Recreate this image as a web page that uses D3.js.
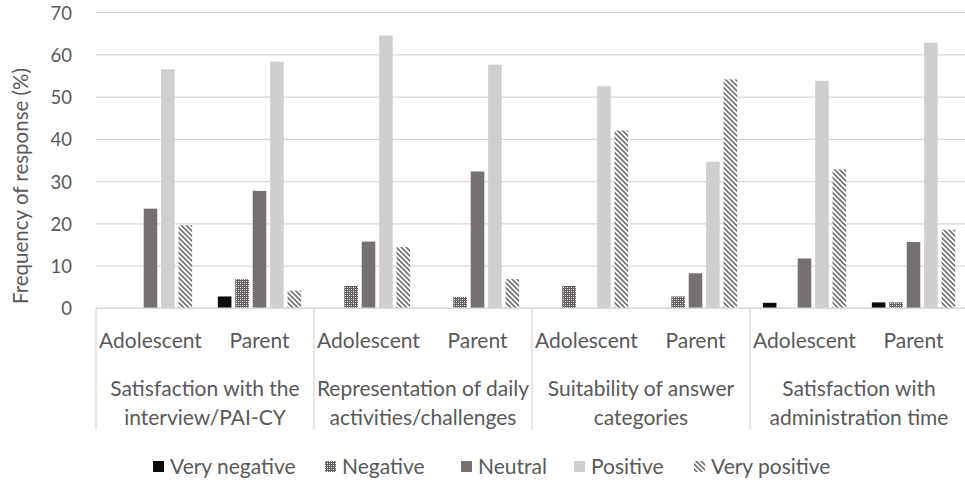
<!DOCTYPE html>
<html><head><meta charset="utf-8">
<script src="https://cdn.jsdelivr.net/npm/d3@7"></script>
<style>body{margin:0;background:#fff;} svg{display:block;font-family:Lato,sans-serif;}</style>
</head><body><svg id="c" width="965" height="483"></svg>
<script>
const groupLabels = [["Satisfaction with the","interview/PAI-CY"],["Representation of daily","activities/challenges"],["Suitability of answer","categories"],["Satisfaction with","administration time"]];
const respondents = ["Adolescent","Parent"];
const seriesNames = ["Very negative","Negative","Neutral","Positive","Very positive"];
const veryNegative = [0, 2.8, 0, 0, 0, 0, 1.3, 1.4];
const negative     = [0, 6.9, 5.3, 2.7, 5.3, 2.8, 0, 1.4];
const neutral      = [23.6, 27.8, 15.8, 32.4, 0, 8.3, 11.8, 15.7];
const positive     = [56.6, 58.4, 64.6, 57.7, 52.6, 34.7, 53.9, 62.9];
const veryPositive = [19.7, 4.2, 14.5, 6.9, 42.1, 54.2, 32.9, 18.6];
const yTicks = [0,10,20,30,40,50,60,70];
const yTitle = "Frequency of response (%)";

const seriesVals = [veryNegative, negative, neutral, positive, veryPositive];
const cats = [];
groupLabels.forEach((g,gi)=>respondents.forEach(r=>cats.push(gi+"|"+r)));

const svg = d3.select("#c");
const defs = svg.append("defs");
const pn = defs.append("pattern").attr("id","pNeg").attr("patternUnits","userSpaceOnUse").attr("width",4).attr("height",4);
pn.append("rect").attr("width",4).attr("height",4).attr("fill","#625e5e");
pn.append("path").attr("d","M1,1h1v1h-1zM3,3h1v1h-1z").attr("fill","#ffffff");
pn.append("path").attr("d","M3,1h1v1h-1zM1,3h1v1h-1z").attr("fill","#bdbaba");
const pv = defs.append("pattern").attr("id","pVP").attr("patternUnits","userSpaceOnUse").attr("width",5).attr("height",5);
pv.append("rect").attr("width",5).attr("height",5).attr("fill","#ffffff");
pv.append("path").attr("d","M-1,-1L6,6M-1,4L1,6M4,-1L6,1").attr("stroke","#7a7676").attr("stroke-width",1.8);

const fills = ["#0c0c0c","url(#pNeg)","#767171","#d0cece","url(#pVP)"];

const mLeft = 96, mRight = 968, mTop = 12.7, mBottom = 308.3;
const x0 = d3.scaleBand().domain(cats).range([mLeft,mRight]).padding(0);
const bw = x0.bandwidth();
const x1 = d3.scaleBand().domain(seriesNames).range([bw*0.118, bw*0.882]).paddingInner(0.22).paddingOuter(0);
const y = d3.scaleLinear().domain([0,70]).range([mBottom, mTop]);

svg.append("g").selectAll("line").data(yTicks).join("line")
  .attr("x1",mLeft).attr("x2",965).attr("y1",d=>y(d)).attr("y2",d=>y(d))
  .attr("stroke","#d9d9d9").attr("stroke-width",1.3);

const yAxis = svg.append("g").attr("transform",`translate(${mLeft-24},0)`)
  .call(d3.axisLeft(y).tickValues(yTicks).tickSize(0).tickPadding(0));
yAxis.select(".domain").remove();
yAxis.selectAll("text").attr("fill","#595959").style("font-size","18.5px").style("font-family","Lato,sans-serif").attr("text-anchor","end").attr("dy","0.35em");

svg.append("text").attr("transform","translate(28,186) rotate(-90)").attr("text-anchor","middle")
  .attr("fill","#595959").style("font-size","20.5px").text(yTitle);

const gBars = svg.append("g");
cats.forEach((c,ci)=>{
  const g = gBars.append("g").attr("transform",`translate(${x0(c)},0)`);
  seriesNames.forEach((s,si)=>{
    const v = seriesVals[si][ci];
    g.append("rect").attr("x",x1(s)).attr("width",x1.bandwidth())
      .attr("y",y(v)).attr("height",mBottom-y(v)).attr("fill",fills[si]);
  });
});

svg.append("line").attr("x1",mLeft).attr("x2",965).attr("y1",mBottom).attr("y2",mBottom).attr("stroke","#d9d9d9").attr("stroke-width",1.5);
const groupW = bw*2;
d3.range(groupLabels.length+1).forEach(i=>{
  svg.append("line").attr("x1",mLeft+i*groupW).attr("x2",mLeft+i*groupW).attr("y1",mBottom).attr("y2",430)
    .attr("stroke","#d9d9d9").attr("stroke-width",1.3);
});
svg.append("g").selectAll("text").data(cats).join("text")
  .attr("x",d=>x0(d)+bw/2).attr("y",348).attr("text-anchor","middle")
  .attr("fill","#595959").style("font-size","21px").text(d=>d.split("|")[1]);
groupLabels.forEach((lines,gi)=>{
  const t = svg.append("text").attr("text-anchor","middle").attr("fill","#595959").style("font-size","21px");
  lines.forEach((l,li)=>t.append("tspan").attr("x",mLeft+gi*groupW+groupW/2).attr("y",396+li*28.5).text(l));
});

const legX = [153, 325, 461, 574, 694];
const lg = svg.append("g");
seriesNames.forEach((s,i)=>{
  lg.append("rect").attr("x",legX[i]).attr("y",461).attr("width",11).attr("height",11).attr("fill",fills[i]);
  lg.append("text").attr("x",legX[i]+17).attr("y",473.5).attr("fill","#595959").style("font-size","21px").text(s);
});
</script></body></html>
